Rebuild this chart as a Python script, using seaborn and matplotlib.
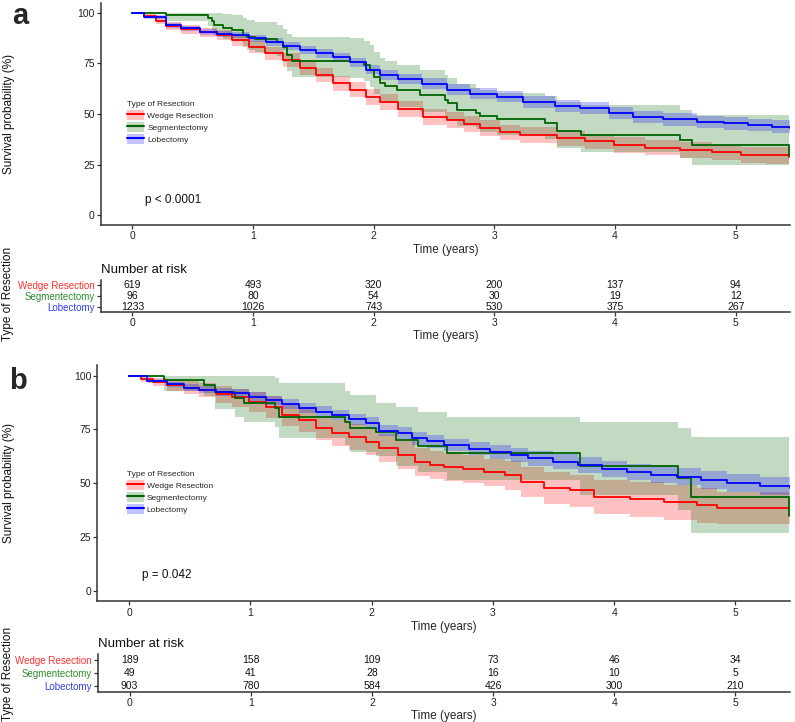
import numpy as np
import pandas as pd
import matplotlib
matplotlib.use("Agg")
import matplotlib.pyplot as plt
import seaborn as sns
from matplotlib.patches import Patch
from matplotlib.lines import Line2D

# ---------------- data ----------------
groups = ["Wedge Resection", "Segmentectomy", "Lobectomy"]
colors = ["#FF0000", "#006400", "#0000FF"]
label_colors = ["#FF3030", "#2E8B2E", "#3040F0"]
time_ticks = [0, 1, 2, 3, 4, 5]
surv_ticks = [0, 25, 50, 75, 100]

# Panel a - Wedge resection
a_wedge_t = [0, 0.1, 0.2, 0.28, 0.4, 0.56, 0.7, 0.83, 0.97, 1.1, 1.25, 1.39, 1.52, 1.66, 1.8, 1.94, 2.05,
             2.2, 2.41, 2.61, 2.75, 2.88, 3.05, 3.21, 3.52, 3.75, 3.99, 4.25, 4.54, 4.8, 5.04, 5.25, 5.44]
a_wedge_s = [100, 98.5, 96, 93.5, 92, 90.5, 89, 86.6, 83, 80, 76.7, 73, 69.5, 65.3, 62, 58.4, 56,
             52.5, 48.5, 47, 45, 43, 41, 39.6, 38, 36.5, 34.7, 33.3, 32, 31, 29.7, 29.5, 28.5]
a_wedge_lo = [100, 97.5, 94.5, 91.6, 89.8, 88.1, 86.4, 83.8, 80, 76.8, 73.3, 69.5, 65.9, 61.6, 58.2, 54.6, 52.2,
              48.7, 44.7, 43.2, 41.2, 39.2, 37.2, 35.8, 34.2, 32.7, 30.9, 29.5, 28.2, 27.1, 25.8, 25.5, 24.3]
a_wedge_hi = [100, 99.3, 97.4, 95.3, 94, 92.8, 91.5, 89.3, 85.9, 83.1, 80, 76.4, 73, 69, 65.8, 62.2, 59.8,
              56.3, 52.3, 50.8, 48.8, 46.8, 44.8, 43.4, 41.8, 40.3, 38.6, 37.2, 35.9, 34.9, 33.7, 33.5, 32.7]

# Panel a - Segmentectomy
a_seg_t = [0, 0.28, 0.63, 0.66, 0.68, 0.75, 0.83, 0.92, 0.95, 1.02, 1.2, 1.25, 1.28, 1.32, 1.8, 1.92, 1.97,
           2.0, 2.05, 2.09, 2.19, 2.38, 2.59, 2.62, 2.69, 2.85, 2.88, 3.02, 3.42, 3.52, 3.72, 4.54, 4.64, 5.44]
a_seg_s = [100, 99, 97.5, 96, 94, 92.5, 91.5, 89, 88, 87, 85.5, 83, 79, 76, 75.5, 74.3, 72,
           68.5, 65.2, 63.9, 61.9, 59.4, 56.9, 55.3, 52, 50.3, 49, 47.4, 45.7, 41.6, 39.6, 37.1, 34.7, 29.2]
a_seg_lo = [100, 96, 93.5, 91.5, 89, 87, 86, 83, 81.5, 80.5, 78.5, 75.5, 71.5, 68.5, 68, 66.5, 63.5,
            60, 56.5, 55.5, 53.5, 51, 48.5, 47, 44, 42.5, 41, 39.5, 37.5, 33, 31, 28, 25, 19]
a_seg_hi = [100, 100, 100, 100, 100, 99.5, 99, 97.5, 96.5, 95.5, 94, 92, 89.5, 88, 87.5, 86, 84,
            80.5, 77.5, 76, 74.5, 72, 69.5, 68, 65, 63, 62, 60.5, 59, 56, 54.5, 52, 49.5, 48.5]

# Panel a - Lobectomy
a_lob_t = [0, 0.1, 0.28, 0.4, 0.56, 0.7, 0.83, 0.97, 1.11, 1.25, 1.39, 1.52, 1.66, 1.8, 1.94, 2.05,
           2.2, 2.4, 2.61, 2.8, 3.02, 3.24, 3.5, 3.71, 3.95, 4.15, 4.4, 4.68, 4.9, 5.1, 5.3, 5.45]
a_lob_s = [100, 98, 94, 92.5, 90.6, 89.8, 89, 87.5, 85.6, 83.5, 81.7, 80, 78, 75.5, 72, 69.5,
           67.5, 65, 62, 60, 58.6, 56, 54, 52.8, 50.5, 48.6, 47.3, 46, 45.3, 44.6, 43.8, 43]
a_lob_lo = [100, 97.2, 92.8, 91.2, 89.2, 88.3, 87.4, 85.8, 83.8, 81.6, 79.7, 77.9, 75.8, 73.2, 69.6, 67,
            65, 62.4, 59.3, 57.3, 55.8, 53.2, 51.1, 49.9, 47.6, 45.6, 44.3, 43, 42.2, 41.5, 40.7, 39.9]
a_lob_hi = [100, 98.8, 95.2, 93.8, 92, 91.3, 90.6, 89.2, 87.4, 85.4, 83.7, 82.1, 80.2, 77.8, 74.4, 72,
            70, 67.6, 64.7, 62.7, 61.4, 58.8, 56.9, 55.7, 53.4, 51.6, 50.3, 49, 48.4, 47.7, 46.9, 46.1]

# Panel b - Wedge resection
b_wedge_t = [0, 0.1, 0.2, 0.31, 0.45, 0.58, 0.72, 0.85, 0.99, 1.13, 1.26, 1.4, 1.54, 1.67, 1.81, 1.95, 2.06,
             2.22, 2.36, 2.48, 2.6, 2.75, 2.93, 3.1, 3.23, 3.42, 3.64, 3.83, 4.13, 4.41, 4.68, 4.85, 5.45]
b_wedge_s = [100, 98.5, 97, 95.7, 94.5, 93.4, 91.5, 90, 87.8, 85.5, 81.7, 79.4, 75.7, 73.3, 71.5, 69.2, 66.5,
             63, 60, 58.5, 57.5, 56.5, 55.2, 53.8, 50.6, 47.8, 46.7, 43.6, 42.6, 41.3, 39.9, 38.4, 38.4]
b_wedge_lo = [100, 97, 95, 93, 91.5, 90, 87.5, 85.5, 83, 80.5, 76.5, 74, 70, 67.5, 65.5, 63, 60,
              56.5, 53.5, 52, 51, 50, 48.5, 47, 43.5, 40.5, 39, 35.5, 34.5, 33, 31.5, 31, 31]
b_wedge_hi = [100, 100, 99, 98.5, 97.5, 96.5, 95, 94, 92.5, 90.5, 87, 85, 81.5, 79.5, 77.5, 75.5, 73,
              69.5, 66.5, 65, 64, 63, 61.5, 60.5, 57.5, 55, 54, 51.5, 50.5, 49, 48, 46, 46]

# Panel b - Segmentectomy
b_seg_t = [0, 0.29, 0.62, 0.71, 0.87, 0.95, 1.2, 1.24, 1.78, 1.82, 2.04, 2.2, 2.38, 2.62, 3.72, 4.53, 4.63, 5.44]
b_seg_s = [100, 98, 95.7, 92.6, 89.5, 87.2, 84.8, 80.9, 78.6, 75.5, 74, 70.1, 67.3, 64.2, 58, 52.3, 43.7, 34.7]
b_seg_lo = [100, 93, 90.5, 84.5, 81, 78.6, 76, 71, 68, 64.5, 62.5, 58, 55, 51.5, 44.5, 37.5, 27, 18]
b_seg_hi = [100, 100, 100, 100, 100, 100, 99, 96.5, 93, 91, 87.5, 85.6, 83.3, 80.9, 78.6, 75.5, 71.5, 71.5]

# Panel b - Lobectomy
b_lob_t = [0, 0.15, 0.31, 0.45, 0.58, 0.72, 0.85, 0.99, 1.13, 1.26, 1.4, 1.54, 1.67, 1.81, 1.95, 2.06, 2.22,
           2.33, 2.46, 2.6, 2.8, 2.98, 3.15, 3.29, 3.5, 3.7, 3.9, 4.11, 4.3, 4.52, 4.72, 4.93, 5.2, 5.45]
b_lob_s = [100, 97.5, 96, 94.5, 93.4, 92.5, 91.8, 90.3, 88.7, 86.8, 84.9, 83.3, 81.7, 79.8, 77.9, 74.5, 73.3,
           70.9, 69.5, 67.8, 66, 64.5, 63, 61.6, 60, 58.4, 56.8, 55.2, 54, 53, 51.5, 50, 48.8, 47.8]
b_lob_lo = [100, 96.5, 94.8, 93, 91.8, 90.8, 90, 88.3, 86.6, 84.6, 82.6, 80.9, 79.2, 77.2, 75.2, 71.8, 70.5,
            68, 66.5, 64.8, 62.9, 61.3, 59.7, 58.2, 56.5, 54.8, 53.1, 51.4, 50.1, 49, 47.4, 45.8, 44.5, 43.4]
b_lob_hi = [100, 98.5, 97.2, 96, 95, 94.2, 93.6, 92.3, 90.8, 89, 87.2, 85.7, 84.2, 82.4, 80.6, 77.2, 76.1,
            73.8, 72.5, 70.8, 69.1, 67.7, 66.3, 65, 63.5, 62, 60.5, 59, 57.9, 57, 55.6, 54.2, 53.1, 52.2]

# Numbers at risk
risk_a_wedge = [619, 493, 320, 200, 137, 94]
risk_a_seg = [96, 80, 54, 30, 19, 12]
risk_a_lob = [1233, 1026, 743, 530, 375, 267]
risk_b_wedge = [189, 158, 109, 73, 46, 34]
risk_b_seg = [49, 41, 28, 16, 10, 5]
risk_b_lob = [903, 780, 584, 426, 300, 210]

pval_a = "p < 0.0001"
pval_b = "p = 0.042"

# ---------------- style ----------------
sns.set_theme(style="white")
plt.rcParams["font.family"] = ["Liberation Sans", "DejaVu Sans"]
SPINE = "#333333"
XLIM = (-0.26, 5.45)
W, H = 795, 722


def style_axes(ax):
    sns.despine(ax=ax)
    for sp in ("left", "bottom"):
        ax.spines[sp].set_color(SPINE)
        ax.spines[sp].set_linewidth(1.1)
    ax.tick_params(axis="both", which="both", direction="out", length=3, width=0.9,
                   color=SPINE, labelsize=7.5, labelcolor="#222222", pad=1.5, left=True, bottom=True)


def km_panel(ax, curves, pval, legend_anchor):
    frames = []
    for g, c in zip(groups, colors):
        t, s, lo, hi = curves[g]
        ax.fill_between(t, lo, hi, step="post", color=c, alpha=0.24, lw=0)
        frames.append(pd.DataFrame({"time": t, "surv": s, "group": g}))
    df = pd.concat(frames, ignore_index=True)
    sns.lineplot(data=df, x="time", y="surv", hue="group", hue_order=groups, palette=colors,
                 drawstyle="steps-post", estimator=None, errorbar=None, sort=False,
                 legend=False, lw=1.3, ax=ax)
    ax.set_xlim(*XLIM)
    ax.set_ylim(-5, 105)
    ax.set_xticks(time_ticks)
    ax.set_yticks(surv_ticks)
    style_axes(ax)
    ax.set_xlabel("Time (years)", fontsize=8.5, labelpad=2)
    ax.set_ylabel("")
    ax.text(0.105, 7.5, pval, fontsize=8.5, ha="left", va="center", color="#111111")
    handles = [(Patch(facecolor=c, alpha=0.24, lw=0), Line2D([], [], color=c, lw=1.5)) for c in colors]
    ax.legend(handles, groups, title="Type of Resection", loc="upper left",
              bbox_to_anchor=legend_anchor, frameon=False, fontsize=6, title_fontsize=6,
              handlelength=2.0, handleheight=1.45, labelspacing=0.25, handletextpad=0.4,
              borderpad=0.2, alignment="left")


def risk_table(ax, rows):
    ax.set_xlim(*XLIM)
    ax.set_ylim(-0.5, 2.5)
    for i, vals in enumerate(rows):
        y = 2 - i
        for t, v in zip(time_ticks, vals):
            ax.text(t, y, str(v), ha="center", va="center", fontsize=7.5, color="#111111")
    ax.set_xticks(time_ticks)
    ax.set_yticks([2, 1, 0])
    ax.set_yticklabels(groups)
    style_axes(ax)
    ax.tick_params(axis="y", labelsize=7)
    for lab, c in zip(ax.get_yticklabels(), label_colors):
        lab.set_color(c)
    ax.set_xlabel("Time (years)", fontsize=8.5, labelpad=1)
    ax.set_title("Number at risk", loc="left", fontsize=9.5, pad=5, color="#111111")


fig = plt.figure(figsize=(7.95, 7.22), dpi=100)

ax_a = fig.add_axes([0.1270, 0.6882, 0.8667, 0.3078])
tab_a = fig.add_axes([0.1270, 0.5679, 0.8667, 0.0443])
ax_b = fig.add_axes([0.1226, 0.1669, 0.8711, 0.3276])
tab_b = fig.add_axes([0.1233, 0.0416, 0.8704, 0.0526])

curves_a = {
    "Wedge Resection": (a_wedge_t, a_wedge_s, a_wedge_lo, a_wedge_hi),
    "Segmentectomy": (a_seg_t, a_seg_s, a_seg_lo, a_seg_hi),
    "Lobectomy": (a_lob_t, a_lob_s, a_lob_lo, a_lob_hi),
}
curves_b = {
    "Wedge Resection": (b_wedge_t, b_wedge_s, b_wedge_lo, b_wedge_hi),
    "Segmentectomy": (b_seg_t, b_seg_s, b_seg_lo, b_seg_hi),
    "Lobectomy": (b_lob_t, b_lob_s, b_lob_lo, b_lob_hi),
}

km_panel(ax_a, curves_a, pval_a, (0.03, 0.585))
risk_table(tab_a, [risk_a_wedge, risk_a_seg, risk_a_lob])
km_panel(ax_b, curves_b, pval_b, (0.034, 0.575))
risk_table(tab_b, [risk_b_wedge, risk_b_seg, risk_b_lob])

# axis titles on the left edge
ytitle_kw = dict(rotation=90, ha="center", va="center", fontsize=8.5, color="#111111")
fig.text(9 / W, 1 - 114 / H, "Survival probability (%)", **ytitle_kw)
fig.text(8 / W, 1 - 294 / H, "Type of Resection", **ytitle_kw)
fig.text(9 / W, 1 - 483 / H, "Survival probability (%)", **ytitle_kw)
fig.text(8 / W, 1 - 674 / H, "Type of Resection", **ytitle_kw)

fig.text(20 / W, 1 - 16 / H, "a", fontsize=21, fontweight="bold", ha="center", va="center")
fig.text(18 / W, 1 - 381 / H, "b", fontsize=21, fontweight="bold", ha="center", va="center")

fig.savefig("out.png", dpi=100)
